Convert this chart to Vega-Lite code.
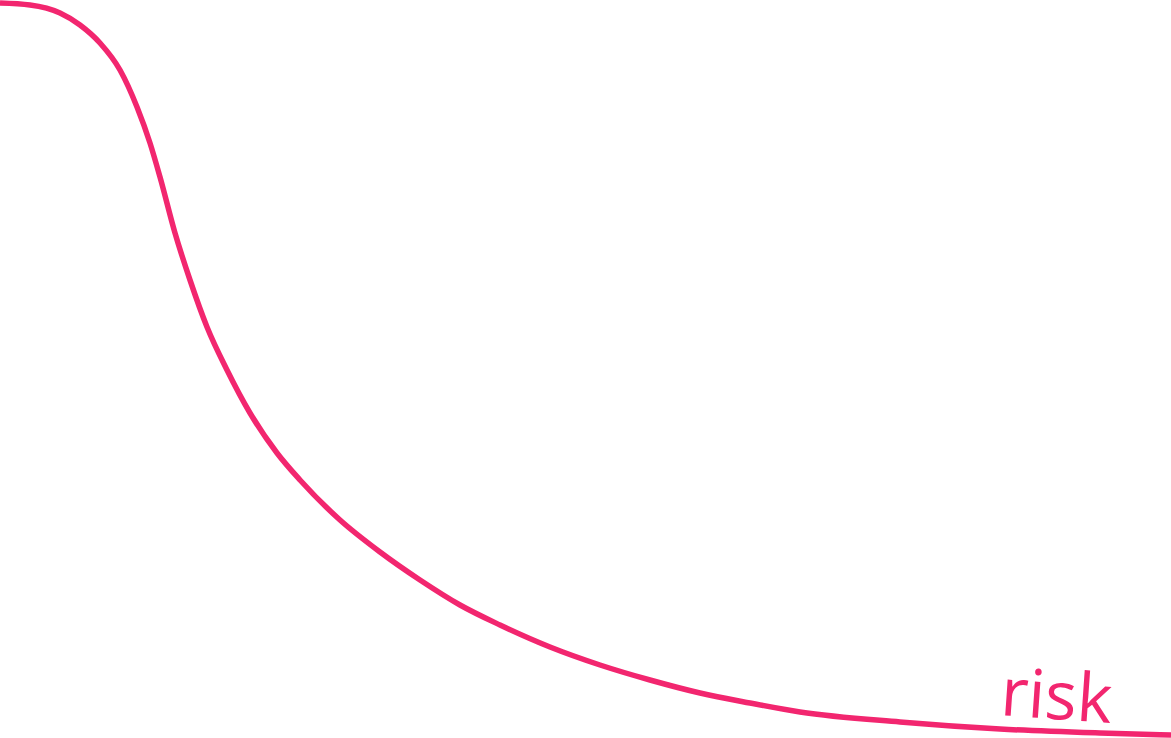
{
  "$schema": "https://vega.github.io/schema/vega-lite/v6.json",
  "width": 1171,
  "height": 738,
  "autosize": {"type": "none"},
  "padding": 0,
  "background": "white",
  "config": {"view": {"stroke": null}},
  "datasets": {
    "curve": [
      {"t": 0, "risk": 735},
      {"t": 30, "risk": 733},
      {"t": 60, "risk": 725},
      {"t": 80, "risk": 713},
      {"t": 100, "risk": 695},
      {"t": 120, "risk": 668},
      {"t": 137, "risk": 631},
      {"t": 150, "risk": 595},
      {"t": 160, "risk": 561},
      {"t": 175, "risk": 505},
      {"t": 190, "risk": 458},
      {"t": 207, "risk": 411},
      {"t": 227, "risk": 368},
      {"t": 250, "risk": 325},
      {"t": 277, "risk": 285},
      {"t": 300, "risk": 258},
      {"t": 340, "risk": 218},
      {"t": 380, "risk": 186},
      {"t": 420, "risk": 158},
      {"t": 460, "risk": 133},
      {"t": 500, "risk": 113},
      {"t": 550, "risk": 91},
      {"t": 600, "risk": 73},
      {"t": 650, "risk": 58},
      {"t": 700, "risk": 45},
      {"t": 750, "risk": 35},
      {"t": 800, "risk": 26},
      {"t": 900, "risk": 16},
      {"t": 1000, "risk": 9},
      {"t": 1100, "risk": 5},
      {"t": 1171, "risk": 3}
    ],
    "labels": [
      {"t": 1055, "risk": 19, "label": "risk"}
    ]
  },
  "layer": [
    {
      "data": {"name": "curve"},
      "mark": {"type": "line", "color": "#f2266f", "strokeWidth": 5.5, "interpolate": "monotone", "clip": false},
      "encoding": {
        "x": {"field": "t", "type": "quantitative", "scale": {"domain": [0, 1171], "nice": false, "zero": false}, "axis": null},
        "y": {"field": "risk", "type": "quantitative", "scale": {"domain": [0, 738], "nice": false, "zero": false}, "axis": null}
      }
    },
    {
      "data": {"name": "labels"},
      "mark": {"type": "text", "color": "#f2266f", "font": "Open Sans", "fontSize": 67, "align": "center", "baseline": "alphabetic", "angle": 4},
      "encoding": {
        "x": {"field": "t", "type": "quantitative"},
        "y": {"field": "risk", "type": "quantitative"},
        "text": {"field": "label"}
      }
    }
  ]
}
